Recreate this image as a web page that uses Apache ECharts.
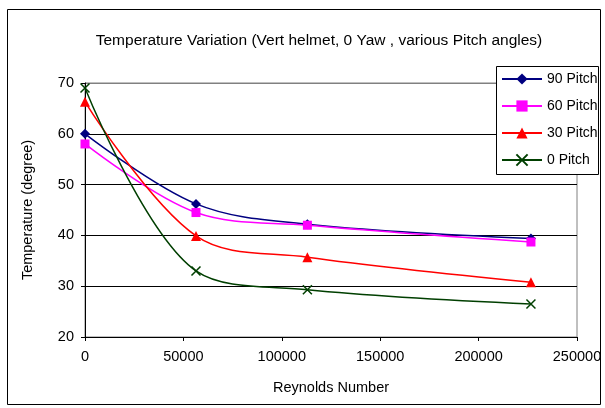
<!DOCTYPE html>
<html>
<head>
<meta charset="utf-8">
<script src="https://cdn.jsdelivr.net/npm/echarts@6/dist/echarts.min.js"></script>
<style>
  html, body { margin: 0; padding: 0; background: #fff; }
  #chart { width: 605px; height: 408px; }
</style>
</head>
<body>
<div id="chart"></div>
<script>
// Reynolds numbers of the measurement runs
const reynolds = [0, 56400, 113000, 226600];

// Temperatures (degree) for each pitch angle
const pitch90 = [60.0, 46.2, 42.2, 39.4];
const pitch60 = [58.0, 44.5, 42.0, 38.7];
const pitch30 = [66.3, 39.9, 35.7, 30.8];
const pitch0  = [69.0, 33.0, 29.3, 26.5];

const seriesNames = ['90 Pitch', '60 Pitch', '30 Pitch', '0 Pitch'];
const yTicks = [20, 30, 40, 50, 60, 70];
const xTicks = [0, 50000, 100000, 150000, 200000, 250000];

const FONT = '"Liberation Sans", Arial, sans-serif';
const crossPath = 'path://M0,0L10,10M10,0L0,10';

function pairs(vals) {
  return reynolds.map((x, i) => [x, vals[i]]);
}

function lineSeries(name, vals, color, symbol, size, extraItem) {
  return {
    name: name,
    type: 'line',
    data: pairs(vals),
    smooth: 0.35,
    smoothConstraint: false,
    symbol: symbol,
    symbolSize: size,
    showAllSymbol: true,
    color: color,
    lineStyle: { color: color, width: 1.5 },
    itemStyle: Object.assign({ color: color }, extraItem || {}),
    emphasis: { disabled: true },
    z: 3
  };
}

const chart = echarts.init(document.getElementById('chart'), null, { renderer: 'canvas' });

chart.setOption({
  animation: false,
  backgroundColor: '#ffffff',
  textStyle: { fontFamily: FONT },
  title: {
    text: 'Temperature Variation (Vert helmet, 0 Yaw , various Pitch angles)',
    left: 314,
    textAlign: 'center',
    top: 28,
    textStyle: { fontFamily: FONT, fontSize: 15.5, fontWeight: 'normal', color: '#000' }
  },
  grid: {
    left: 85, top: 83, width: 492, height: 254,
    show: true, borderColor: '#808080', borderWidth: 1, backgroundColor: 'transparent'
  },
  xAxis: {
    type: 'value',
    min: xTicks[0], max: xTicks[xTicks.length - 1], interval: 50000,
    name: 'Reynolds Number',
    nameLocation: 'middle',
    nameGap: 43,
    nameTextStyle: { fontFamily: FONT, fontSize: 14.5, color: '#000' },
    axisLine: { show: true, onZero: false, lineStyle: { color: '#000', width: 1 } },
    axisTick: { show: true, inside: false, length: 4, lineStyle: { color: '#000' } },
    axisLabel: {
      fontFamily: FONT, fontSize: 14.5, color: '#000', margin: 12,
      formatter: v => String(v)
    },
    splitLine: { show: false }
  },
  yAxis: {
    type: 'value',
    min: yTicks[0], max: yTicks[yTicks.length - 1], interval: 10,
    name: 'Temperature (degree)',
    nameLocation: 'middle',
    nameGap: 50,
    nameRotate: 90,
    nameTextStyle: { fontFamily: FONT, fontSize: 14.5, color: '#000' },
    axisLine: { show: true, onZero: false, lineStyle: { color: '#000', width: 1 } },
    axisTick: { show: true, inside: false, length: 4, lineStyle: { color: '#000' } },
    axisLabel: { fontFamily: FONT, fontSize: 14.5, color: '#000', margin: 11 },
    splitLine: {
      show: true,
      lineStyle: { color: ['#000', '#000', '#000', '#000', '#000', '#808080'], width: 1 }
    }
  },
  legend: {
    data: seriesNames,
    orient: 'vertical',
    left: 496,
    top: 66,
    padding: [6, 4, 7, 5],
    itemWidth: 40,
    itemHeight: 14,
    itemGap: 13,
    z: 20,
    textStyle: { fontFamily: FONT, fontSize: 14, color: '#000' },
    selectedMode: false
  },
  graphic: [
    {
      type: 'rect',
      z: 15,
      shape: { x: 496.5, y: 66.5, width: 102, height: 108 },
      style: { fill: '#fff', stroke: '#000', lineWidth: 1 }
    },
    {
      type: 'rect',
      z: 0,
      silent: true,
      shape: { x: 7.5, y: 9.5, width: 593, height: 395 },
      style: { fill: 'none', stroke: '#000', lineWidth: 1 }
    }
  ],
  series: [
    lineSeries(seriesNames[0], pitch90, '#000080', 'diamond', 10),
    lineSeries(seriesNames[1], pitch60, '#ff00ff', 'rect', 9),
    lineSeries(seriesNames[2], pitch30, '#ff0000', 'triangle', 10),
    lineSeries(seriesNames[3], pitch0, '#003f00', crossPath, 9,
      { borderColor: '#003f00', borderWidth: 1.5 })
  ]
});
</script>
</body>
</html>
